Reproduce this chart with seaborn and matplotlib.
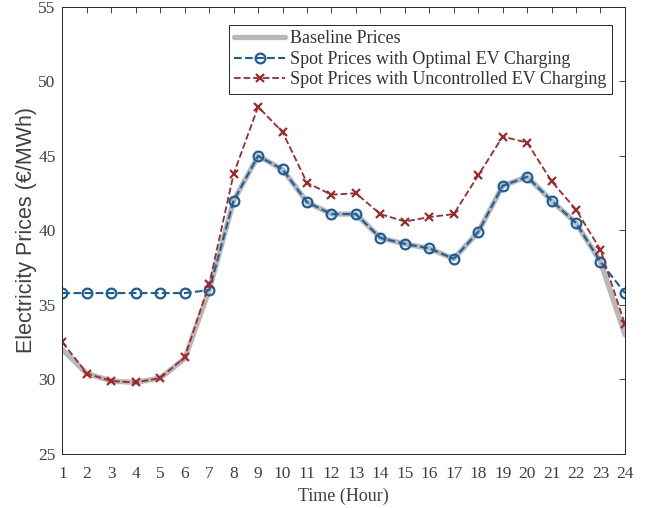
import numpy as np
import pandas as pd
import seaborn as sns
from matplotlib import pyplot as plt

hours = list(range(1, 25))
baseline = [32.0, 30.4, 29.9, 29.8, 30.1, 31.4, 36.0, 42.0, 45.0, 44.1, 41.9, 41.1,
            41.1, 39.5, 39.1, 38.8, 38.1, 39.9, 43.0, 43.6, 42.0, 40.5, 37.9, 33.0]
optimal = [35.8, 35.8, 35.8, 35.8, 35.8, 35.8, 36.0, 42.0, 45.0, 44.1, 41.9, 41.1,
           41.1, 39.5, 39.1, 38.8, 38.1, 39.9, 43.0, 43.6, 42.0, 40.5, 37.9, 35.8]
uncontrolled = [32.5, 30.4, 29.9, 29.8, 30.1, 31.5, 36.4, 43.8, 48.3, 46.6, 43.2, 42.4,
                42.5, 41.1, 40.6, 40.9, 41.1, 43.7, 46.3, 45.9, 43.3, 41.4, 38.7, 33.7]

df = pd.DataFrame({"Hour": hours, "Baseline": baseline,
                   "Optimal": optimal, "Uncontrolled": uncontrolled})

sns.set_style("white")
plt.rcParams['font.family'] = ['Liberation Serif', 'DejaVu Serif']
plt.rcParams['text.color'] = '#333333'
plt.rcParams['axes.labelcolor'] = '#404040'
plt.rcParams['xtick.color'] = '#262626'
plt.rcParams['ytick.color'] = '#262626'
plt.rcParams['xtick.labelcolor'] = '#404040'
plt.rcParams['ytick.labelcolor'] = '#404040'

fig = plt.figure(figsize=(6.46, 5.08), dpi=100)
ax = fig.add_axes([0.0967, 0.1063, 0.8707, 0.880])

sns.lineplot(data=df, x="Hour", y="Baseline", ax=ax, color="#b8b8b8",
             linewidth=3.8, label="Baseline Prices")
sns.lineplot(data=df, x="Hour", y="Optimal", ax=ax, color="#1a5e9c",
             linewidth=1.5, linestyle="--", marker="o", markersize=7,
             markerfacecolor="none", markeredgecolor="#1a5e9c",
             markeredgewidth=1.6,
             label="Spot Prices with Optimal EV Charging")
sns.lineplot(data=df, x="Hour", y="Uncontrolled", ax=ax, color="#a02a2a",
             linewidth=1.3, linestyle="--", marker="x", markersize=6,
             markeredgecolor="#a02a2a", markeredgewidth=1.6,
             label="Spot Prices with Uncontrolled EV Charging")

ax.set_xlim(1, 24)
ax.set_ylim(25, 55)
ax.set_xticks(hours)
ax.set_yticks(range(25, 56, 5))
ax.tick_params(axis='both', direction='in', length=4, width=0.6,
               top=True, right=True, labelsize=12.5)
ax.tick_params(axis='x', pad=9)
ax.tick_params(axis='y', pad=5)
for s in ax.spines.values():
    s.set_color('#262626')
    s.set_linewidth(0.7)

ax.set_xlabel("Time (Hour)", fontsize=13, labelpad=4)
ax.set_ylabel("Electricity Prices (€/MWh)", fontsize=15.5,
              family=['Liberation Sans', 'DejaVu Sans'], labelpad=1)

leg = ax.legend(loc="upper right", fontsize=13, frameon=True, fancybox=False,
                edgecolor='#262626', framealpha=1, handlelength=2.8,
                borderpad=0.3, labelspacing=0.2, handletextpad=0.3,
                borderaxespad=0, bbox_to_anchor=(0.977, 0.960))
leg.get_frame().set_linewidth(0.7)

fig.savefig("out.png", dpi=100)
